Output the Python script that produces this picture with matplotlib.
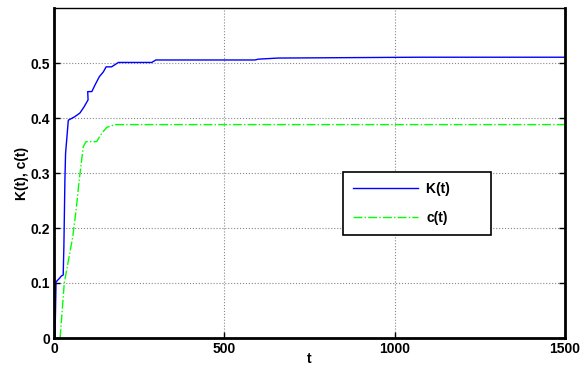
import matplotlib
matplotlib.use('Agg')
import matplotlib.pyplot as plt

# K(t) - stepwise growth
t_k = [0, 3, 6, 16, 22, 27, 29, 32, 34, 42, 60, 76, 88, 100, 99, 111, 122, 133, 145, 153, 169, 189,
       287, 299, 590, 600, 658, 1071, 1500]
k = [0, 0.002, 0.102, 0.1085, 0.113, 0.1145, 0.166, 0.287, 0.336, 0.396, 0.402, 0.409, 0.42, 0.433,
     0.448, 0.448, 0.462, 0.475, 0.484, 0.493, 0.493, 0.501, 0.501, 0.5055, 0.5055, 0.507, 0.509,
     0.5105, 0.5105]

# c(t)
t_c = [18, 30, 55, 65, 74, 86, 94, 125, 140, 155, 179, 1500]
c = [0, 0.099, 0.184, 0.233, 0.287, 0.348, 0.357, 0.357, 0.372, 0.383, 0.388, 0.388]

xticks = [0, 500, 1000, 1500]
yticks = [0, 0.1, 0.2, 0.3, 0.4, 0.5]

plt.rcParams['font.family'] = ['Liberation Sans', 'DejaVu Sans']
plt.rcParams['font.weight'] = 'bold'

fig = plt.figure(figsize=(5.82, 3.67), dpi=100)
ax = fig.add_axes([54 / 582, 29 / 367, 511 / 582, 330 / 367])

ax.plot(t_k, k, color='#0000ff', lw=1.0, label='K(t)        ')
ax.plot(t_c, c, color='#00ff00', lw=1.0, linestyle='-.', label='c(t)')

ax.set_xlim(0, 1500)
ax.set_ylim(0, 0.6)
ax.set_xticks(xticks)
ax.set_yticks(yticks)
ax.set_xticklabels([str(v) for v in xticks], fontsize=10, fontweight='bold')
ax.set_yticklabels(['0', '0.1', '0.2', '0.3', '0.4', '0.5'], fontsize=10, fontweight='bold')
ax.tick_params(direction='in', length=4, width=1, pad=3, top=False, right=True)
ax.grid(True, linestyle=':', color='#888888', lw=0.8)

for side in ['left', 'bottom', 'right']:
    ax.spines[side].set_linewidth(2)
ax.spines['top'].set_linewidth(1)

ax.set_xlabel('t', fontsize=10, fontweight='bold', labelpad=-3)
ax.set_ylabel('K(t), c(t)', fontsize=10, fontweight='bold', labelpad=1)

leg = ax.legend(loc='upper left', bbox_to_anchor=((343 - 54) / 511, (338 - 172) / 330),
                borderaxespad=0, fancybox=False, framealpha=1, edgecolor='black', fontsize=10,
                handlelength=4.7, borderpad=0.7, labelspacing=1.1, handletextpad=0.6)
leg.get_frame().set_linewidth(1.2)
for txt in leg.get_texts():
    txt.set_fontweight('bold')

fig.savefig('out.png', dpi=100)
